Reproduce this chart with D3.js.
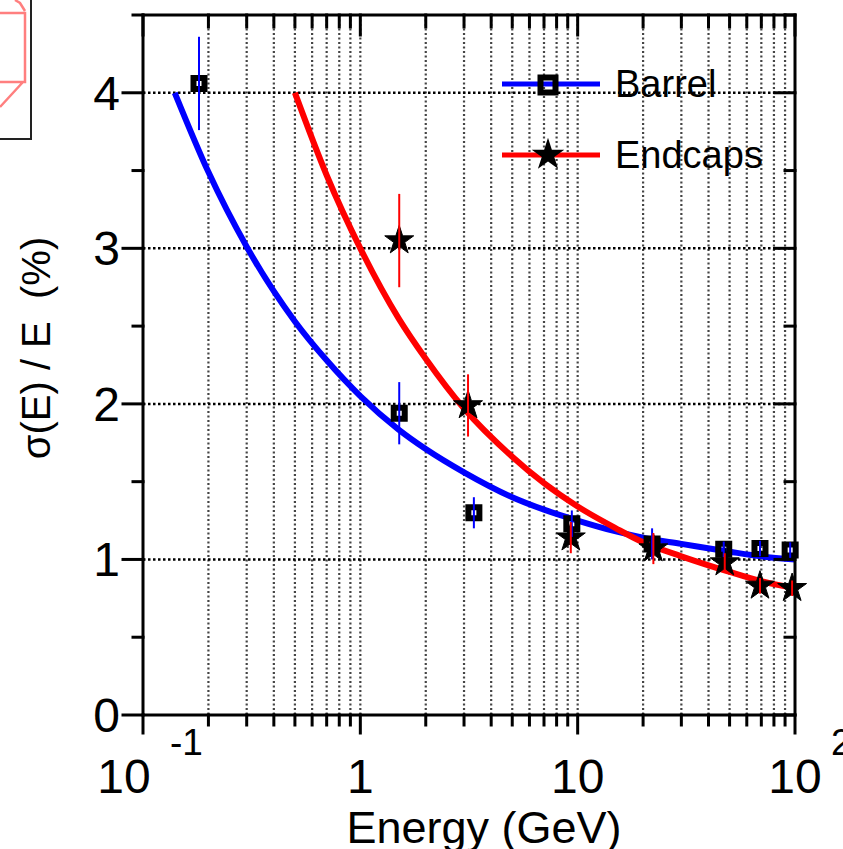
<!DOCTYPE html>
<html>
<head>
<meta charset="utf-8">
<script src="https://cdn.jsdelivr.net/npm/d3@7"></script>
<style>
  body { margin: 0; background: #fff; }
  svg { display: block; }
</style>
</head>
<body>
<script>
// measured points
const energyBarrel = [0.181, 1.51, 3.33, 9.4, 22, 47, 69, 95];
const sigmaBarrel = [4.06, 1.94, 1.30, 1.23, 1.10, 1.065, 1.07, 1.06];
const errBarrel = [0.3, 0.2, 0.1, 0.085, 0.1, 0.05, 0.05, 0.05];

const energyEndcap = [1.51, 3.13, 9.3, 22.3, 47.5, 69, 97];
const sigmaEndcap = [3.05, 1.99, 1.14, 1.07, 0.98, 0.83, 0.815];
const errEndcap = [0.3, 0.2, 0.1, 0.1, 0.06, 0.05, 0.05];

// fitted curves
const fitEnergyBarrel = [0.14, 0.2, 0.3, 0.5, 0.7, 1, 1.5, 2, 3, 5, 7, 10, 15, 20, 30, 50, 70, 100];
const fitSigmaBarrel = [4.00, 3.49, 3.01, 2.53, 2.28, 2.05, 1.835, 1.71, 1.56, 1.40, 1.32, 1.25, 1.18, 1.14, 1.10, 1.05, 1.02, 1.00];

const fitEnergyEndcap = [0.5, 0.7, 1, 1.5, 2, 3, 5, 7, 10, 15, 20, 30, 50, 70, 100];
const fitSigmaEndcap = [4.00, 3.47, 3.00, 2.55, 2.29, 1.97, 1.66, 1.49, 1.34, 1.20, 1.11, 1.02, 0.92, 0.86, 0.815];

const xTickValues = [0.1, 1, 10, 100];
const xTickBase = ['10', '1', '10', '10'];
const xTickSup = ['-1', '', '', '2'];
const yTickValues = [0, 1, 2, 3, 4];
const legendNames = ['Barrel', 'Endcaps'];

const W = 843, H = 849;
const font = '"Liberation Sans", Arial, Helvetica, sans-serif';

const svg = d3.select('body').append('svg')
  .attr('width', W)
  .attr('height', H);

const x = d3.scaleLog().domain([0.1, 100]).range([143, 795]);
const y = d3.scaleLinear().domain([0, 4.5]).range([715, 15]);

// fragment of a neighbouring figure at the top left
svg.append('path')
  .attr('d', 'M0,13 L25,13 L25,82 L0,82 M25,11 L20,3 L15,0 M23,82 L0,107')
  .attr('fill', 'none')
  .attr('stroke', '#ff7f7f')
  .attr('stroke-width', 2.5);
svg.append('path')
  .attr('d', 'M31,0 L31,139 L0,139')
  .attr('fill', 'none')
  .attr('stroke', '#222')
  .attr('stroke-width', 2);

// grid
const minorX = [];
[0.1, 1, 10].forEach(dec => {
  for (let k = 2; k <= 10; k++) minorX.push(dec * k);
});
const gridX = minorX.filter(v => v < 100);

svg.append('g')
  .selectAll('line')
  .data(gridX)
  .enter().append('line')
  .attr('x1', d => x(d)).attr('x2', d => x(d))
  .attr('y1', y(4.5)).attr('y2', y(0))
  .attr('stroke', '#444')
  .attr('stroke-width', 2.2)
  .attr('stroke-dasharray', '2,2.5');

svg.append('g')
  .selectAll('line')
  .data([1, 2, 3, 4])
  .enter().append('line')
  .attr('x1', x(0.1)).attr('x2', x(100))
  .attr('y1', d => y(d)).attr('y2', d => y(d))
  .attr('stroke', '#000')
  .attr('stroke-width', 2.5)
  .attr('stroke-dasharray', '2.5,2.5');

// fit curves
const line = d3.line()
  .x(d => x(d[0]))
  .y(d => y(d[1]))
  .curve(d3.curveMonotoneX);

svg.append('path')
  .datum(fitEnergyBarrel.map((e, i) => [e, fitSigmaBarrel[i]]))
  .attr('d', line)
  .attr('fill', 'none')
  .attr('stroke', '#0000ff')
  .attr('stroke-width', 6);

svg.append('path')
  .datum(fitEnergyEndcap.map((e, i) => [e, fitSigmaEndcap[i]]))
  .attr('d', line)
  .attr('fill', 'none')
  .attr('stroke', '#ff0000')
  .attr('stroke-width', 6);

// markers
const square = d3.symbol().type(d3.symbolSquare).size(121);
const star = d3.symbol().type(d3.symbolStar).size(260);

svg.append('g')
  .selectAll('path')
  .data(energyBarrel.map((e, i) => [e, sigmaBarrel[i]]))
  .enter().append('path')
  .attr('d', square)
  .attr('transform', d => 'translate(' + x(d[0]) + ',' + y(d[1]) + ')')
  .attr('fill', 'none')
  .attr('stroke', '#000')
  .attr('stroke-width', 6);

svg.append('g')
  .selectAll('path')
  .data(energyEndcap.map((e, i) => [e, sigmaEndcap[i]]))
  .enter().append('path')
  .attr('d', star)
  .attr('transform', d => 'translate(' + x(d[0]) + ',' + y(d[1]) + ')')
  .attr('fill', '#000')
  .attr('stroke', '#000')
  .attr('stroke-width', 1);

// error bars
svg.append('g')
  .selectAll('line')
  .data(energyBarrel.map((e, i) => [e, sigmaBarrel[i], errBarrel[i]]))
  .enter().append('line')
  .attr('x1', d => x(d[0])).attr('x2', d => x(d[0]))
  .attr('y1', d => y(d[1] + d[2])).attr('y2', d => y(d[1] - d[2]))
  .attr('stroke', '#0000ff')
  .attr('stroke-width', 2);

svg.append('g')
  .selectAll('line')
  .data(energyEndcap.map((e, i) => [e, sigmaEndcap[i], errEndcap[i]]))
  .enter().append('line')
  .attr('x1', d => x(d[0])).attr('x2', d => x(d[0]))
  .attr('y1', d => y(d[1] + d[2])).attr('y2', d => y(d[1] - d[2]))
  .attr('stroke', '#ff0000')
  .attr('stroke-width', 2);

// axes
const axisG = svg.append('g')
  .attr('stroke', '#000')
  .attr('stroke-width', 3)
  .attr('stroke-linecap', 'square');

axisG.append('rect')
  .attr('x', x(0.1)).attr('y', y(4.5))
  .attr('width', x(100) - x(0.1))
  .attr('height', y(0) - y(4.5))
  .attr('fill', 'none');

const yMinor = [0.5, 1.5, 2.5, 3.5, 4.5];
// left: outward, right: inward
yTickValues.forEach(v => {
  axisG.append('line').attr('x1', x(0.1) - 20).attr('x2', x(0.1)).attr('y1', y(v)).attr('y2', y(v));
  axisG.append('line').attr('x1', x(100) - 20).attr('x2', x(100)).attr('y1', y(v)).attr('y2', y(v));
});
yMinor.forEach(v => {
  axisG.append('line').attr('x1', x(0.1) - 10).attr('x2', x(0.1)).attr('y1', y(v)).attr('y2', y(v));
  axisG.append('line').attr('x1', x(100) - 10).attr('x2', x(100)).attr('y1', y(v)).attr('y2', y(v));
});
// bottom: outward, top: inward
xTickValues.forEach(v => {
  axisG.append('line').attr('x1', x(v)).attr('x2', x(v)).attr('y1', y(0)).attr('y2', y(0) + 18);
  axisG.append('line').attr('x1', x(v)).attr('x2', x(v)).attr('y1', y(4.5)).attr('y2', y(4.5) + 20);
});
gridX.filter(v => Math.abs(Math.log10(v) % 1) > 1e-6).forEach(v => {
  axisG.append('line').attr('x1', x(v)).attr('x2', x(v)).attr('y1', y(0)).attr('y2', y(0) + 10);
  axisG.append('line').attr('x1', x(v)).attr('x2', x(v)).attr('y1', y(4.5)).attr('y2', y(4.5) + 12);
});

// tick labels
svg.append('g')
  .selectAll('text')
  .data(yTickValues)
  .enter().append('text')
  .attr('x', 120)
  .attr('y', d => y(d) + 17)
  .attr('text-anchor', 'end')
  .style('font-family', font)
  .style('font-size', '48px')
  .text(d => d);

xTickValues.forEach((v, i) => {
  const hasSup = xTickSup[i] !== '';
  const bx = i === 0 ? x(v) - 19 : x(v);
  svg.append('text')
    .attr('x', bx)
    .attr('y', 793)
    .attr('text-anchor', 'middle')
    .style('font-family', font)
    .style('font-size', '48px')
    .text(xTickBase[i]);
  if (hasSup) {
    svg.append('text')
      .attr('x', i === 0 ? x(v) + 27 : x(v) + 36)
      .attr('y', 755)
      .style('font-family', font)
      .style('font-size', '37px')
      .text(xTickSup[i]);
  }
});

// axis titles
svg.append('text')
  .attr('x', 484)
  .attr('y', 843)
  .attr('text-anchor', 'middle')
  .style('font-family', font)
  .style('font-size', '45px')
  .text('Energy (GeV)');

svg.append('text')
  .attr('transform', 'translate(50,348)rotate(-90)')
  .attr('text-anchor', 'middle')
  .style('font-family', font)
  .style('font-size', '40px')
  .style('white-space', 'pre')
  .text('σ(E) / E  (%)');

// legend
const legendColors = ['#0000ff', '#ff0000'];
const legendY = [84, 155];
legendNames.forEach((name, i) => {
  const g = svg.append('g');
  g.append('line')
    .attr('x1', 502).attr('x2', 600)
    .attr('y1', legendY[i]).attr('y2', legendY[i])
    .attr('stroke', legendColors[i])
    .attr('stroke-width', 5);
  if (i === 0) {
    g.append('path')
      .attr('d', d3.symbol().type(d3.symbolSquare).size(225)())
      .attr('transform', 'translate(548,' + (legendY[i] + 1) + ')')
      .attr('fill', 'none')
      .attr('stroke', '#000')
      .attr('stroke-width', 6);
  } else {
    g.append('path')
      .attr('d', d3.symbol().type(d3.symbolStar).size(330)())
      .attr('transform', 'translate(548,' + legendY[i] + ')')
      .attr('fill', '#000');
  }
  g.append('text')
    .attr('x', 615)
    .attr('y', legendY[i] + 13)
    .style('font-family', font)
    .style('font-size', '38px')
    .text(name);
});
</script>
</body>
</html>
